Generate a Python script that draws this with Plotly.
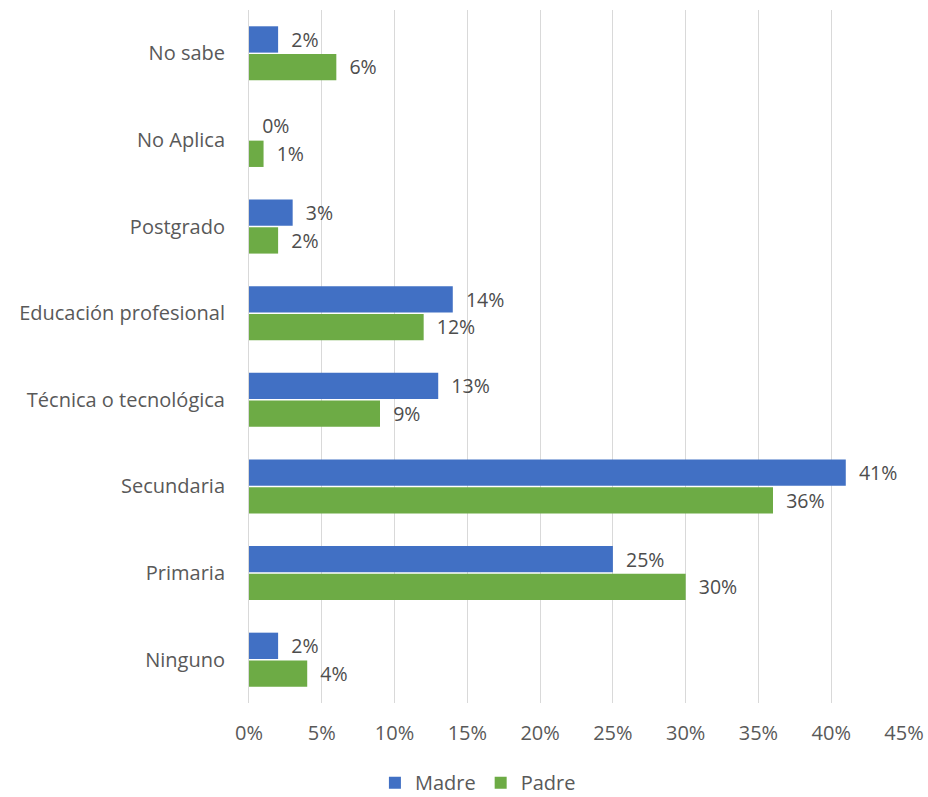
import plotly.graph_objects as go

categories = ["Ninguno", "Primaria", "Secundaria", "Técnica o tecnológica",
              "Educación profesional", "Postgrado", "No Aplica", "No sabe"]
madre = [2, 25, 41, 13, 14, 3, 0, 2]
padre = [4, 30, 36, 9, 12, 2, 1, 6]
tick_vals = [0, 5, 10, 15, 20, 25, 30, 35, 40, 45]
tick_text = [f"{v}%" for v in tick_vals]

FONT = "Open Sans, sans-serif"
GREY = "#595959"
FS = 20

fig = go.Figure()
fig.add_trace(go.Bar(
    y=categories, x=padre, name="Padre", orientation="h",
    marker=dict(color="#6dab45", line=dict(width=0)),
    text=[f"  {v}%" for v in padre], textposition="outside",
    textfont=dict(size=FS, color="#4d4d4d", family=FONT), cliponaxis=False,
    legendrank=2,
))
fig.add_trace(go.Bar(
    y=categories, x=madre, name="Madre", orientation="h",
    marker=dict(color="#4170c4", line=dict(width=0)),
    text=[f"  {v}%" for v in madre], textposition="outside",
    textfont=dict(size=FS, color="#4d4d4d", family=FONT), cliponaxis=False,
    legendrank=1,
))

fig.update_layout(
    width=928, height=797,
    margin=dict(l=249, r=24, t=10, b=94, autoexpand=False),
    barmode="group", bargap=0.36, bargroupgap=0.05,
    plot_bgcolor="white", paper_bgcolor="white",
    font=dict(family=FONT, size=FS, color=GREY),
    xaxis=dict(range=[0, 45], tickvals=tick_vals, ticktext=tick_text,
               showgrid=True, gridcolor="#d9d9d9", gridwidth=1,
               zeroline=False, showline=False, ticks="", automargin=False,
               tickfont=dict(size=FS, color=GREY), ticklabelstandoff=16),
    yaxis=dict(categoryorder="array", categoryarray=categories,
               showline=True, linecolor="#d9d9d9", linewidth=1,
               ticks="", ticklabelstandoff=19, automargin=False,
               tickfont=dict(size=FS, color=GREY)),
    legend=dict(orientation="h", x=0.515, xanchor="center", xref="container",
                y=0.018, yanchor="middle", yref="container",
                font=dict(size=FS, color=GREY), itemwidth=30,
                tracegroupgap=0),
)
fig.write_html(
    "out.html",
    config={"displayModeBar": False},
    post_script="document.body.style.margin='0';document.body.style.overflow='hidden';",
)
